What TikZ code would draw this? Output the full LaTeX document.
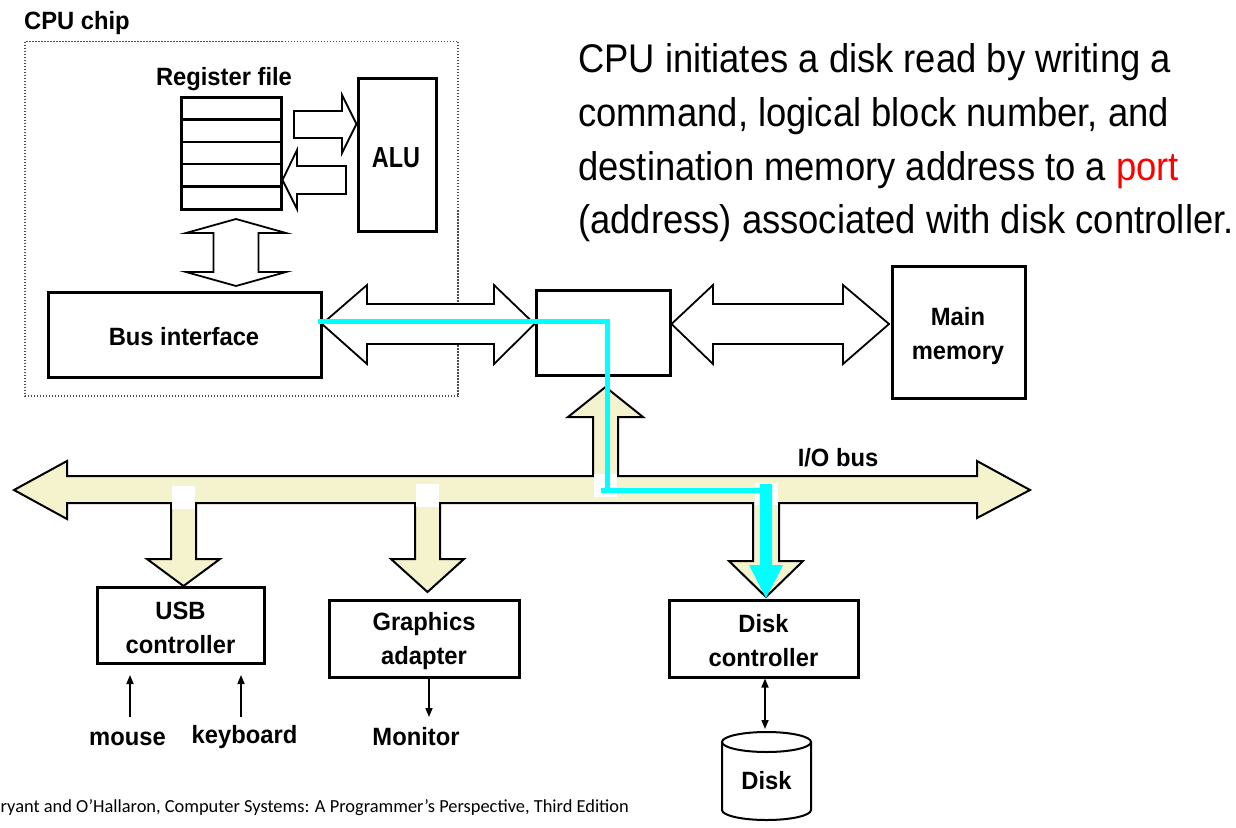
\documentclass[tikz,border=0pt]{standalone}
\usepackage{fontspec}
\setmainfont{Liberation Sans}
\newfontfamily\txtf{Liberation Sans}[FakeStretch=0.91]
\newfontfamily\lblf{Liberation Sans}[FakeStretch=0.95]
\newfontfamily\footf{Carlito}
\usetikzlibrary{arrows.meta}
\definecolor{busfill}{RGB}{245,243,206}
\definecolor{cyanline}{RGB}{0,255,255}
\definecolor{portred}{RGB}{255,0,0}
\tikzset{
  box/.style={draw, line width=3, inner sep=0pt},
  lbl/.style={font=\fontsize{25}{34}\lblf\bfseries, align=center, inner sep=0pt},
  msgline/.style={anchor=base west, inner sep=0pt, font=\fontsize{40}{48}\txtf},
  blk/.style={draw, line width=1.8, fill=white, line join=miter},
  bus/.style={draw, line width=2, fill=busfill, line join=miter},
  patch/.style={fill=white, draw=none},
  cyanpath/.style={draw=cyanline, line width=5},
  thin/.style={line width=1.6, -{Triangle[length=9pt,width=7pt]}},
  thinboth/.style={line width=1.6, {Triangle[length=9pt,width=7pt]}-{Triangle[length=9pt,width=7pt]}}
}
\begin{document}
\begin{tikzpicture}[x=1pt,y=-1pt]
\useasboundingbox (0,0) rectangle (1236,827);
\fill[white] (0,0) rectangle (1236,827);

% CPU chip dotted region
\draw[line width=1.5, dash pattern=on 1.5pt off 1.5pt, black!70] (25,41.5) rectangle (458,396);
\node[lbl, anchor=west] (cpulbl) at (24,23) {CPU chip};

% register file and ALU
\node[box, minimum width=100, minimum height=112] (reg) at (231,153) {};
\foreach \yy in {119.4,141.8,164.2,186.6}
  \draw[line width=2.5] (181,\yy) -- (281,\yy);
\node[lbl] (reglbl) at (224,79) {Register file};
\node[box, minimum width=78, minimum height=153] (alu) at (397,154.5) {};
\node[inner sep=0pt, font=\fontsize{29}{29}\lblf\bfseries] (alulbl) at (396,158) {\scalebox{0.85}[1]{ALU}};

% block arrows inside CPU
\draw[blk] (294,111) -- (342,111) -- (342,95) -- (alu.west |- 0,124) -- (342,153) -- (342,138) -- (294,138) -- cycle;
\draw[blk] (346,166) -- (297,166) -- (297,150) -- (reg.east |- 0,180) -- (297,209) -- (297,194) -- (346,194) -- cycle;
\draw[blk] (236,219) -- (286,233) -- (258.5,233) -- (258.5,272) -- (286,272) -- (236,286) -- (186,272) -- (213.5,272) -- (213.5,233) -- (186,233) -- cycle;

% bus interface, bridge, memory
\node[box, minimum width=273, minimum height=85] (busif) at (184.5,334.5) {};
\node[lbl] (busiflbl) at (184,337) {Bus interface};
\node[box, minimum width=134, minimum height=85] (bridge) at (603,332.5) {};
\node[box, minimum width=133, minimum height=132] (mem) at (958.5,332) {};
\node[lbl] (memlbl) at (958,336) {Main\\memory};

% system bus and memory bus
\draw[blk] (322,324) -- (367,285) -- (367,304) -- (494,304) -- (494,285) -- (bridge.west |- 0,324) -- (494,364) -- (494,344) -- (367,344) -- (367,364) -- cycle;
\draw[blk] (bridge.east |- 0,324) -- (713,285) -- (713,304) -- (843,304) -- (843,285) -- (889,324) -- (843,364) -- (843,344) -- (713,344) -- (713,364) -- cycle;

% I/O bus with its branches as one outline
\draw[bus] (14,490) -- (67,461) -- (67,476) -- (593,476) -- (593,417) -- (568,417) -- (605.5,387) -- (643,417) -- (618,417) -- (618,476)
  -- (977,476) -- (977,461) -- (1030,490) -- (977,518) -- (977,503)
  -- (779,503) -- (779,561) -- (803,561) -- (766,597) -- (729,561) -- (753,561) -- (753,503)
  -- (440,503) -- (440,559) -- (464,559) -- (427.5,592) -- (391,559) -- (415,559) -- (415,503)
  -- (196,503) -- (196,559) -- (220,559) -- (183.5,586) -- (147,559) -- (171,559) -- (171,503)
  -- (67,503) -- (67,519) -- cycle;
\fill[patch] (172,486) rectangle (195,509);
\fill[patch] (416,484) rectangle (439,507);
\fill[patch] (594,474) rectangle (617,497);
\fill[patch] (755,483) rectangle (778,505);
\node[lbl] (iolbl) at (838,458) {I/O bus};

% I/O devices
\node[box, minimum width=167, minimum height=76] (usb) at (180.5,625) {};
\node[lbl] (usblbl) at (180.5,628) {USB\\controller};
\node[box, minimum width=190, minimum height=77] (gfx) at (424,638.5) {};
\node[lbl] (gfxlbl) at (424,641.5) {Graphics\\adapter};
\node[box, minimum width=189, minimum height=77] (diskc) at (763.5,638.5) {};
\node[lbl] (diskclbl) at (763.5,641) {Disk\\controller};

% cyan data path
\coordinate (p1) at (318,321);
\coordinate (p2) at (610,321);
\coordinate (p3) at (607.5,319);
\coordinate (p4) at (607.5,488);
\coordinate (p5) at (601,490);
\coordinate (p6) at (768,490);
\draw[cyanpath] (p1) -- (p2);
\draw[cyanpath] (p3) -- (p4);
\draw[cyanpath] (p5) -- (p6);
\fill[cyanline] (760,484) -- (772,484) -- (772,565) -- (783,565) -- (766,598) -- (749,565) -- (760,565) -- cycle;

% peripherals
\node[lbl, anchor=base] (mouse) at (127.5,745) {mouse};
\node[lbl, anchor=base] (kbd) at (244.5,743) {keyboard};
\node[lbl, anchor=base] (monitor) at (416,745) {Monitor};
\coordinate (mouseend) at (130,717);
\coordinate (kbdend) at (241,717);
\draw[thin] (mouseend) -- (130,675);
\draw[thin] (kbdend) -- (241,675);
\draw[thin] (gfx.south -| 429,0) -- (429,717);

% disk
\node[lbl, minimum width=89, minimum height=78] (disk) at (766.5,781) {Disk};
\draw[line width=2] (722,742) -- (722,810) arc[start angle=180, end angle=0, x radius=44.5, y radius=10] -- (811,742);
\draw[line width=2] (766.5,742) ellipse[x radius=44.5, y radius=10];
\draw[thinboth] (diskc.south -| 765,0) -- (765,729);

% main text
\node[msgline] (msg1) at (578,72) {CPU initiates a disk read by writing a};
\node[msgline] (msg2) at (578,126) {command, logical block number, and};
\node[msgline] (msg3) at (578,180) {destination memory address to a \textcolor{portred}{port}};
\node[msgline] (msg4) at (578,233) {(address) associated with disk controller.};

% footer
\node[anchor=base east, inner sep=0pt, font=\fontsize{18.4}{18.4}\footf] (foot) at (629,812)
  {Bryant and O’Hallaron, Computer Systems: A Programmer’s Perspective, Third Edition};
\end{tikzpicture}
\end{document}
